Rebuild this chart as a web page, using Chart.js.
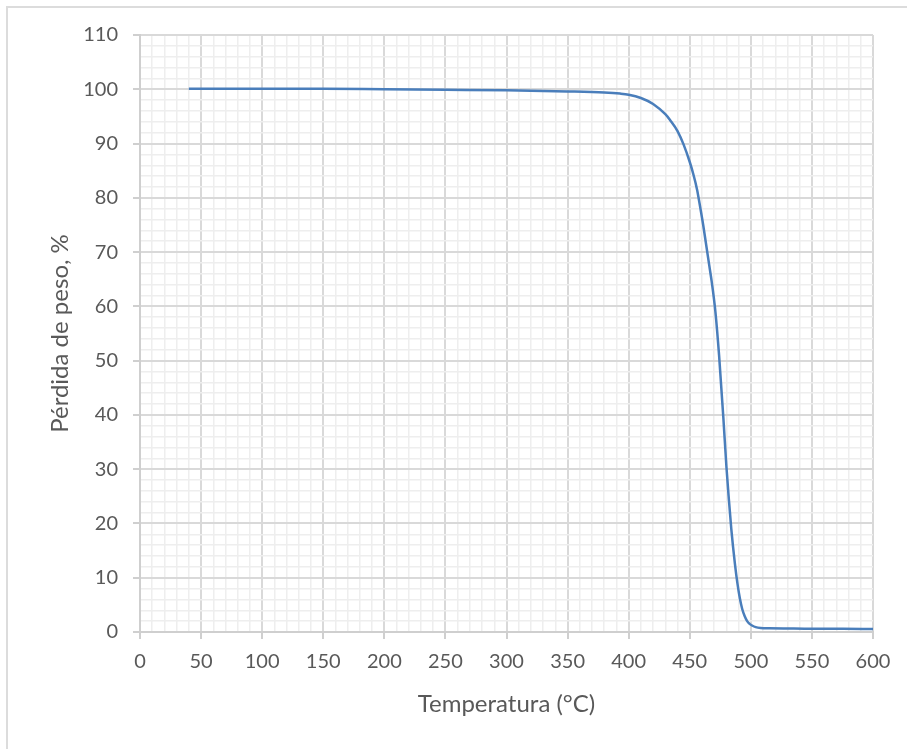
<!DOCTYPE html>
<html>
<head>
<meta charset="utf-8">
<script src="https://cdn.jsdelivr.net/npm/chart.js@4"></script>
<style>
  html, body { margin: 0; padding: 0; background: #fff; }
  #wrap { width: 907px; height: 749px; position: relative; }
</style>
</head>
<body>
<div id="wrap"><canvas id="tgaChart"></canvas></div>
<script>
// TGA curve
const temperatures = [40, 60, 80, 100, 150, 200, 250, 300, 350, 380, 393, 400, 410, 420, 430, 434, 440, 445, 450, 453, 456, 458, 461, 463, 466, 468, 471, 474, 477.5, 480, 482, 484, 487, 489, 491, 493, 495, 497, 499, 501, 504, 508, 515, 530, 550, 575, 600];
const weightPct = [100.1, 100.1, 100.1, 100.1, 100.1, 100.0, 99.9, 99.8, 99.6, 99.4, 99.2, 99.0, 98.4, 97.3, 95.4, 94.3, 92.3, 89.8, 86.6, 84.3, 81.5, 79.0, 75.0, 72.0, 67.5, 64.5, 59.0, 51.0, 39.5, 30.5, 24.5, 19.0, 12.5, 9.0, 6.2, 4.2, 2.9, 2.0, 1.5, 1.2, 0.9, 0.75, 0.7, 0.65, 0.6, 0.6, 0.55];

const xTitle = 'Temperatura (°C)';
const yTitle = 'Pérdida de peso, %';

const FONT = 'Lato, "Open Sans", sans-serif';
const TEXT = '#595959';
const MAJOR = '#d9d9d9';
const MINOR = '#eeeeee';

const frame = {
  id: 'frame',
  beforeDraw(chart) {
    const c = chart.ctx;
    c.save();
    c.strokeStyle = '#dcdcdc';
    c.lineWidth = 2;
    c.strokeRect(7, 7, 1000, 1000);
    c.restore();
  }
};

new Chart(document.getElementById('tgaChart'), {
  type: 'line',
  data: {
    datasets: [{
      data: temperatures.map((t, i) => ({ x: t, y: weightPct[i] })),
      borderColor: '#4a7ebb',
      borderWidth: 2.5,
      pointRadius: 0,
      cubicInterpolationMode: 'monotone',
      fill: false
    }]
  },
  options: {
    responsive: true,
    maintainAspectRatio: false,
    animation: false,
    layout: { padding: { left: 8, right: 34, top: 35, bottom: 0 } },
    plugins: { legend: { display: false }, tooltip: { enabled: false } },
    scales: {
      x: {
        type: 'linear',
        min: 0,
        max: 600,
        afterFit: s => { s.height = 117; },
        ticks: {
          stepSize: 10,
          autoSkip: false,
          maxRotation: 0,
          padding: 11,
          color: TEXT,
          font: { family: FONT, size: 20 },
          callback: v => (v % 50 === 0 ? v : '')
        },
        grid: {
          color: c => (c.tick && c.tick.value % 50 === 0 ? MAJOR : MINOR),
          lineWidth: c => (c.tick && c.tick.value % 50 === 0 ? 2 : 1.5),
          tickColor: c => (c.tick && c.tick.value % 50 === 0 ? '#cfcfcf' : 'rgba(0,0,0,0)'),
          tickLength: 7,
          tickWidth: 2
        },
        border: { color: '#cfcfcf', width: 2 },
        title: {
          display: true,
          text: xTitle,
          color: TEXT,
          font: { family: FONT, size: 24 },
          padding: { top: 0, bottom: 30 }
        }
      },
      y: {
        min: 0,
        max: 110,
        afterFit: s => { s.width = 132; },
        ticks: {
          stepSize: 2,
          autoSkip: false,
          padding: 15,
          color: TEXT,
          font: { family: FONT, size: 20 },
          callback: v => (v % 10 === 0 ? v : '')
        },
        grid: {
          color: c => (c.tick && c.tick.value % 10 === 0 ? MAJOR : MINOR),
          lineWidth: c => (c.tick && c.tick.value % 10 === 0 ? 2 : 1.5),
          tickColor: c => (c.tick && c.tick.value % 10 === 0 ? '#cfcfcf' : 'rgba(0,0,0,0)'),
          tickLength: 7,
          tickWidth: 2
        },
        border: { color: '#cfcfcf', width: 2 },
        title: {
          display: true,
          text: yTitle,
          color: TEXT,
          font: { family: FONT, size: 24 },
          padding: { top: 38, bottom: 0 }
        }
      }
    }
  },
  plugins: [frame]
});
</script>
</body>
</html>
